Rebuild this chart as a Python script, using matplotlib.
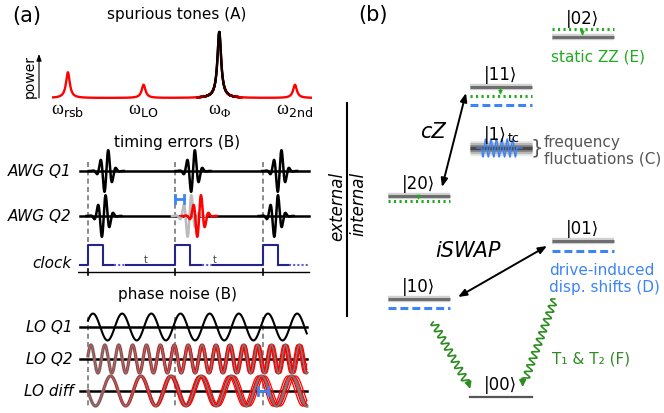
import numpy as np
import matplotlib
matplotlib.use("Agg")
import matplotlib.pyplot as plt
from matplotlib.collections import LineCollection

plt.rcParams['font.family'] = ['DejaVu Sans']
plt.rcParams['mathtext.fontset'] = 'custom'
plt.rcParams['mathtext.rm'] = 'Liberation Serif'
plt.rcParams['mathtext.sf'] = 'DejaVu Sans'

W, H = 664, 414

# (A) spurious tones
tone_labels = [r'$\mathrm{\omega}_{\mathsf{rsb}}$', r'$\mathrm{\omega}_{\mathsf{LO}}$',
               r'$\mathrm{\omega}_{\Phi}$', r'$\mathrm{\omega}_{\mathsf{2nd}}$']
tone_freq = [-2, -1, 0, 1]
tone_power = [0.39, 0.2, 1.0, 0.2]

# (B) timing errors, time in clock periods
clock_edges = [0, 1, 2]
q1_pulses = [0.21, 1.2, 2.19]
q2_pulses = [0.18, 1.16, 2.15]
q2_late_pulse = 1.27
t_label_pos = [0.66, 1.45]

# (B) phase noise
lo_names = ['LO Q1', 'LO Q2', 'LO diff']
lo_freq = [3.0, 6.3, 2.9]          # cycles per clock period
lo_amp = [0.42, 0.44, 0.47]
lo_spread = [0.0, 0.025, 0.05]     # time jitter of noisy traces at the end

# (b) level diagram
level_names = ['|00⟩', '|10⟩', '|01⟩', '|20⟩', '|11⟩', '|02⟩']
level_col = [1, 0, 2, 0, 1, 2]
level_energy = [0, 98, 156, 201, 310, 360]
zz_shift = {'|20⟩': -5, '|11⟩': -9, '|02⟩': 8}
drive_shift = {'|10⟩': -9, '|01⟩': -10, '|11⟩': -18}
tc_col, tc_energy = 1, 249

red = '#ff0000'
blue = '#3d85f5'
green = '#22aa22'
dgreen = '#2e8b22'
navy = '#24248f'

fig = plt.figure(figsize=(W / 100, H / 100), dpi=100)


def px_axes(x0, y0, x1, y1):
    ax = fig.add_axes([x0 / W, 1 - y1 / H, (x1 - x0) / W, (y1 - y0) / H])
    ax.set_axis_off()
    return ax


ax0 = px_axes(0, 0, W, H)
ax0.set_xlim(0, W)
ax0.set_ylim(H, 0)

# ---------------- (a) spurious tones ----------------
ax0.text(27, 16, '(a)', fontsize=15, ha='center', va='center')
ax0.text(177, 14, 'spurious tones (A)', fontsize=11, ha='center', va='center')
ax0.text(30, 77, 'power', fontsize=10, rotation=90, ha='center', va='center')
ax0.annotate('', xy=(39, 55), xytext=(39, 99),
             arrowprops=dict(arrowstyle='-|>,head_length=0.4,head_width=0.15',
                             color='k', lw=0.8, shrinkA=0, shrinkB=0))

ax_s = px_axes(52, 25, 312, 100)
ax_s.set_xlim(-2.21, 1.225)
ax_s.set_ylim(-0.015, 1.121)
f = np.linspace(-2.21, 1.225, 3000)
g = 0.03
spec = np.zeros_like(f)
for f0, p in zip(tone_freq, tone_power):
    spec += p * g**2 / ((f - f0)**2 + g**2)
ax_s.plot(f, spec, color=red, lw=1.7)
# black fade around the qubit tone
near = np.abs(f) < 0.3
fn, sn = f[near], spec[near]
w = np.clip(1 - np.abs(fn) / 0.3, 0, 1) ** 0.6
cols = np.zeros((len(fn), 4))
cols[:, 0] = 1 - w
cols[:, 3] = 1
pts = np.column_stack([fn, sn]).reshape(-1, 1, 2)
segs = np.concatenate([pts[:-1], pts[1:]], axis=1)
ax_s.add_collection(LineCollection(segs, colors=cols[:-1], linewidths=1.7,
                                   capstyle='round'))
for f0, lab in zip(tone_freq, tone_labels):
    ax_s.text(f0, -0.17, lab, fontsize=13, ha='center', va='center', clip_on=False)

# ---------------- (B) timing errors ----------------
ax0.text(177, 143, 'timing errors (B)', fontsize=11, ha='center', va='center')
for lab, y in zip(['AWG Q1', 'AWG Q2', 'clock'], [172, 217, 264]):
    ax0.text(72, y, lab, fontsize=11, style='italic', ha='right', va='center')

ax_t = px_axes(78, 150, 312, 280)
ax_t.set_xlim(-0.114, 2.56)
ax_t.set_ylim(-2.4, 0.489)
clk_lo, clk_hi, t_axis = -2.089, -1.644, -2.244

for e in clock_edges:
    ax_t.plot([e, e], [0.2, clk_hi], color='#777777', lw=1.2, ls=(0, (3, 2)))

for r in [0, -1]:
    ax_t.plot([-0.091, 2.526], [r, r], color='k', lw=1.8)


def packet(c, row, color, lw=1.8):
    t = np.linspace(c - 0.2, c + 0.2, 600)
    y = 0.5 * np.exp(-((t - c) / 0.055)**2 / 2) * np.sin(2 * np.pi * (t - c) / 0.09)
    ax_t.plot(t, y + row, color=color, lw=lw)


for c in q1_pulses:
    packet(c, 0, 'k')
for i, c in enumerate(q2_pulses):
    packet(c, -1, '#bbbbbb' if i == 1 else 'k')
packet(q2_late_pulse, -1, red)

# clock
xs, ys = [-0.091], [clk_lo]
for e in clock_edges:
    xs += [e, e, e + 0.17, e + 0.17]
    ys += [clk_lo, clk_hi, clk_hi, clk_lo]
    ax_t.plot(xs, ys, color=navy, lw=1.5)
    last = e == clock_edges[-1]
    dot_end = 2.526 if last else e + 0.43
    ax_t.plot([e + 0.17, e + 0.3], [clk_lo] * 2, color=navy, lw=1.5)
    ax_t.plot([e + 0.3, dot_end], [clk_lo] * 2, color='#5b5bd0', lw=1.5, ls=(0, (1, 1)))
    xs, ys = [dot_end], [clk_lo]
for tl in t_label_pos:
    ax_t.text(tl, clk_lo + 0.14, 't', fontsize=7, color='#444444', ha='center', va='center')

ax_t.plot([-0.114, 2.526], [t_axis] * 2, color='k', lw=1)
for e in clock_edges:
    ax_t.plot([e, e], [t_axis - 0.06, t_axis + 0.06], color='k', lw=1.2)

ax_t.plot([1.0, 1.1], [-0.62] * 2, color=blue, lw=2)
for xe in [1.0, 1.1]:
    ax_t.plot([xe, xe], [-0.71, -0.53], color=blue, lw=2)

# ---------------- (B) phase noise ----------------
ax0.text(177, 295, 'phase noise (B)', fontsize=11, ha='center', va='center')
for lab, y in zip(lo_names, [328, 360, 392]):
    ax0.text(73, y, lab, fontsize=11, style='italic', ha='right', va='center')

ax_p = px_axes(78, 300, 312, 414)
ax_p.set_xlim(-0.114, 2.56)
ax_p.set_ylim(-2.6875, 0.875)
for e in clock_edges:
    ax_p.plot([e, e], [0.31, -2.5], color='#777777', lw=1.2, ls=(0, (3, 2)))
for r in [0, -1, -2]:
    ax_p.plot([-0.091, 2.503], [r, r], color='k', lw=1.8)

t = np.linspace(0, 2.5, 3000)
lo_phase = [0.057, 0.034, 0.0]


def lo_wave(i, shift):
    arg = 2 * np.pi * lo_freq[i] * (t - lo_phase[i] - shift)
    return lo_amp[i] * (np.cos(arg) if i < 2 else -np.sin(arg)) - i


ax_p.plot(t, lo_wave(0, 0), color='k', lw=1.5)
for i in [1, 2]:
    ax_p.plot(t, lo_wave(i, 0), color='#7a7a7a', lw=2.4)
    for k in [-1, -0.5, 0.5, 1]:
        ax_p.plot(t, lo_wave(i, k * lo_spread[i] * t / 2.5), color=red, lw=0.9)
    ax_p.plot(t, lo_wave(i, 0), color='#7a7a7a', lw=1.0)
ax_p.plot([1.943, 2.057], [-2, -2], color=blue, lw=2)
for xe in [1.943, 2.057]:
    ax_p.plot([xe, xe], [-2.13, -1.87], color=blue, lw=2)

# ---------------- (b) level diagram ----------------
ax0.text(373, 15, '(b)', fontsize=15, ha='center', va='center')
ax0.plot([347, 347], [104, 317], color='k', lw=1.5)
ax0.text(337, 206, 'external', fontsize=12, style='italic', rotation=90,
         ha='center', va='center')
ax0.text(358, 204, 'internal', fontsize=12, style='italic', rotation=90,
         ha='center', va='center')

ax_b = px_axes(330, 0, 664, 414)
ax_b.set_xlim((330 - 418.5) / 82, (664 - 418.5) / 82)
ax_b.set_ylim(-16, 398)
hw = 31 / 82


def to_px(c, E):
    return 418.5 + 82 * c, 398 - E


def to_data(x, y):
    return (x - 418.5) / 82, 398 - y


for name, c, E in zip(level_names, level_col, level_energy):
    xx = [c - hw, c + hw]
    if name == '|00⟩':
        ax_b.plot(xx, [E, E], color='#555555', lw=1.6)
    else:
        ax_b.plot(xx, [E, E], color='#d2d2d2', lw=4.6, solid_capstyle='butt')
        ax_b.plot(xx, [E, E], color='#6e6e6e', lw=2.2, solid_capstyle='butt')
    off = 19 if zz_shift.get(name, 0) > 0 else 13
    ax_b.text(c, E + off, name, fontsize=12, ha='center', va='center')
    if name in zz_shift:
        s = zz_shift[name]
        ax_b.plot(xx, [E + s] * 2, color=green, lw=2.2, ls=(0, (0.7, 1.1)))
        top, bot = max(E, E + s), min(E, E + s)
        ax_b.annotate('', xy=(c, bot + 1), xytext=(c, top),
                      arrowprops=dict(arrowstyle='-|>,head_length=0.25,head_width=0.12',
                                      color=green, lw=0.8, shrinkA=0, shrinkB=0))
    if name in drive_shift:
        ax_b.plot(xx, [E + drive_shift[name]] * 2, color=blue, lw=2.2,
                  ls=(0, (2.6, 1.3)))

# tunable coupler level with frequency fluctuations
xx = [tc_col - hw, tc_col + hw]
for lw_, col in [(11, '#e6e6e6'), (8, '#b8b8b8'), (5, '#8a8a8a'), (2.5, '#4a4a4a')]:
    ax_b.plot(xx, [tc_energy] * 2, color=col, lw=lw_, solid_capstyle='butt')
xo = np.linspace(tc_col - 0.287, tc_col + 0.262, 600)
env = ((xo > tc_col - 0.226) & (xo < tc_col + 0.2)).astype(float)
ax_b.plot(xo, tc_energy + 9 * env * np.sin(2 * np.pi * (xo - tc_col) / 0.066),
          color=blue, lw=1.0)
ax_b.text(tc_col - 0.07, tc_energy + 14, '|1⟩', fontsize=12, ha='center', va='center')
ax_b.text(tc_col + 0.16, tc_energy + 10, 'tc', fontsize=9, ha='center', va='center')
ax0.text(537, 148, '}', fontsize=14, color='#555555', ha='center', va='center')
ax0.text(544, 143, 'frequency', fontsize=11, color='#555555', ha='left', va='center')
ax0.text(544, 159, 'fluctuations (C)', fontsize=11, color='#555555', ha='left', va='center')

ax0.text(598, 57, 'static ZZ (E)', fontsize=11, color=green, ha='center', va='center')
ax0.text(549, 271, 'drive-induced', fontsize=11, color=blue, ha='left', va='center')
ax0.text(549, 288, 'disp. shifts (D)', fontsize=11, color=blue, ha='left', va='center')
ax0.text(552, 359, 'T₁ & T₂ (F)', fontsize=11, color=dgreen, ha='left', va='center')

# gate arrows
gate_arrows = [((0.287, 210), (0.579, 304)), ((0.482, 100), (1.567, 151))]
for p0, p1 in gate_arrows:
    ax_b.annotate('', xy=p1, xytext=p0,
                  arrowprops=dict(arrowstyle='<|-|>,head_length=0.5,head_width=0.2',
                                  color='k', lw=1.4, shrinkA=0, shrinkB=0))
ax0.text(433, 132, 'cZ', fontsize=15, style='italic', ha='center', va='center')
ax0.text(468, 251, 'iSWAP', fontsize=15, style='italic', ha='center', va='center')

# decay (wavy) arrows
decay_start = [(0.18, 75), (1.66, 98)]
decay_end = [(0.63, 8), (1.27, 10)]
for p0, p1 in zip(decay_start, decay_end):
    x0, y0 = to_px(*p0)
    x1, y1 = to_px(*p1)
    d = np.array([x1 - x0, y1 - y0])
    L = np.hypot(*d)
    u = d / L
    n = np.array([-u[1], u[0]])
    s = np.linspace(0, L - 7, 400)
    off = 3.5 * np.sin(2 * np.pi * s / 7)
    X = x0 + s * u[0] + off * n[0]
    Y = y0 + s * u[1] + off * n[1]
    cx, cy = to_data(X, Y)
    ax_b.plot(cx, cy, color=dgreen, lw=1.2)
    ax_b.annotate('', xy=p1, xytext=(cx[-1], cy[-1]),
                  arrowprops=dict(arrowstyle='-|>,head_length=0.4,head_width=0.2',
                                  color=dgreen, lw=1.2, shrinkA=0, shrinkB=0))

fig.savefig('out.png', dpi=100)
